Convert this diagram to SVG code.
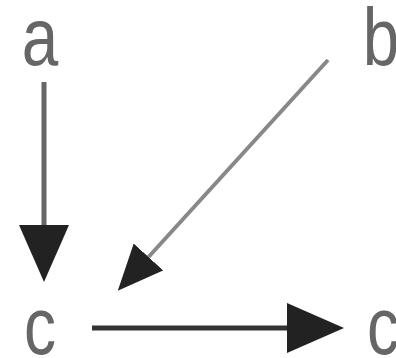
<svg xmlns="http://www.w3.org/2000/svg" width="396" height="358" viewBox="0 0 396 358">
  <style>
    .label { font-family: "Liberation Sans", Arial, sans-serif; font-size: 82px; fill: #666; text-anchor: middle; }
    .edge { fill: none; stroke-linecap: butt; }
  </style>
  <defs>
    <!-- filled triangular head, sized in stroke widths so thinner edges get smaller heads -->
    <marker id="head" viewBox="0 0 11.4 10" markerWidth="11.4" markerHeight="10" refX="0" refY="5" orient="auto" markerUnits="strokeWidth">
      <path d="M0,0 L11.4,5 L0,10 Z" fill="#222"/>
    </marker>
  </defs>
  <rect width="396" height="358" fill="#fff"/>

  <!-- labels are drawn slightly condensed -->
  <g id="node-a"><text class="label" transform="translate(40,65) scale(0.8,1)">a</text></g>
  <g id="node-b"><text class="label" transform="translate(381,65) scale(0.8,1)">b</text></g>
  <g id="node-c-left"><text class="label" transform="translate(40,354) scale(0.78,1)">c</text></g>
  <g id="node-c-right"><text class="label" transform="translate(383,354) scale(0.78,1)">c</text></g>

  <g id="connectors">
    <line class="edge" x1="44" y1="82" x2="44" y2="225" stroke="#666" stroke-width="5" marker-end="url(#head)"/>
    <line class="edge" x1="328" y1="60" x2="148.5" y2="257" stroke="#888" stroke-width="4" marker-end="url(#head)"/>
    <line class="edge" x1="92" y1="328" x2="287" y2="328" stroke="#333" stroke-width="5" marker-end="url(#head)"/>
  </g>
</svg>
